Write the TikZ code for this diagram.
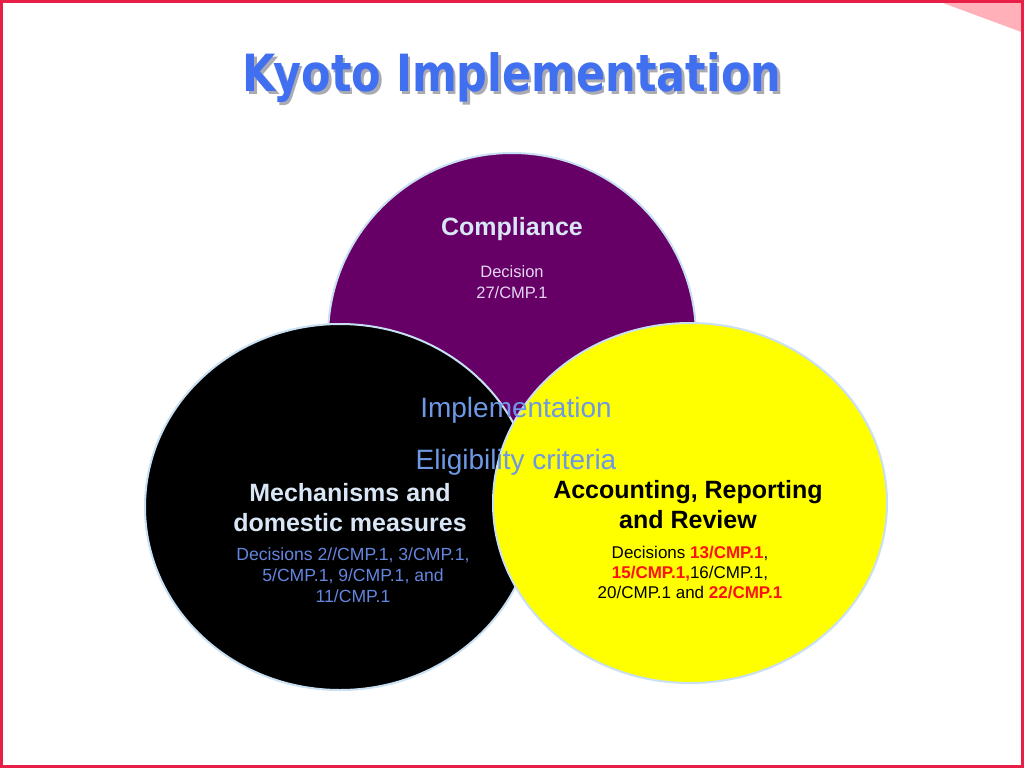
\documentclass[tikz,border=0pt]{standalone}
\usepackage{fontspec}
\setmainfont{Liberation Sans}
\newfontfamily\titlefont{DejaVu Sans}
\usetikzlibrary{shapes.geometric}
\definecolor{purp}{RGB}{102,0,102}
\definecolor{yel}{RGB}{255,255,0}
\definecolor{rim}{RGB}{200,224,242}
\definecolor{titleblue}{RGB}{64,112,240}
\definecolor{shadowgray}{RGB}{170,170,180}
\definecolor{implblue}{RGB}{110,152,228}
\definecolor{decblue}{RGB}{100,134,222}
\definecolor{headwhite}{RGB}{216,230,246}
\definecolor{lav}{RGB}{228,214,240}
\definecolor{redtxt}{RGB}{250,20,20}
\definecolor{frame}{RGB}{232,32,72}
\definecolor{corner}{RGB}{255,176,184}
\tikzset{
  blob/.style={ellipse, draw=rim, line width=2pt, inner sep=0pt},
  head/.style={align=center, font=\fontsize{25}{30}\selectfont\bfseries},
  small/.style={align=center, font=\fontsize{16.5}{20.5}\selectfont},
  mid/.style={font=\fontsize{28}{34}\selectfont, text=implblue}
}
\begin{document}
\begin{tikzpicture}[x=1pt,y=-1pt]
\useasboundingbox (0,0) rectangle (1024,768);
\fill[white] (0,0) rectangle (1024,768);
\fill[corner] (935,0) -- (1024,0) -- (1024,33) -- cycle;
\draw[frame, line width=3pt] (1.5,1.5) rectangle (1022.5,766.5);
% title (with its drop shadow)
\node[text=shadowgray, inner sep=0pt] (titleshadow) at (514.5,80.5) {\resizebox*{538pt}{50pt}{\titlefont\bfseries Kyoto Implementation}};
\node[text=titleblue, inner sep=0pt] (title) at (512,78) {\resizebox*{538pt}{50pt}{\titlefont\bfseries Kyoto Implementation}};
% circles
\node[blob, fill=purp, minimum width=368pt, minimum height=368pt] (comp) at (512,337) {};
\node[blob, fill=black, minimum width=390pt, minimum height=366pt] (mech) at (340,507) {};
\node[blob, fill=yel, minimum width=394pt, minimum height=360pt] (acct) at (690,503) {};
% compliance text
\node[head, text=headwhite] (comphead) at (512,229) {Compliance};
\node[small, text=lav] (compdec) at (512,282) {Decision\\27/CMP.1};
% centre texts
\node[mid] (impl) at (516,410) {Implementation};
\node[mid] (elig) at (516,462) {Eligibility criteria};
% mechanisms
\node[head, text=headwhite] (mechhead) at (350,508) {Mechanisms and\\domestic measures};
\node[small, text=decblue, font=\fontsize{17.6}{21}\selectfont] (mechdec) at (353,575) {Decisions 2//CMP.1, 3/CMP.1,\\5/CMP.1, 9/CMP.1, and\\11/CMP.1};
% accounting
\node[head, text=black] (acchead) at (688,505) {Accounting, Reporting\\and Review};
\node[small, text=black, font=\fontsize{17}{20}\selectfont] (accdec) at (690,573) {Decisions \textcolor{redtxt}{\bfseries 13/CMP.1},\\\textcolor{redtxt}{\bfseries 15/CMP.1,}16/CMP.1,\\20/CMP.1 and \textcolor{redtxt}{\bfseries 22/CMP.1}};
\end{tikzpicture}
\end{document}
